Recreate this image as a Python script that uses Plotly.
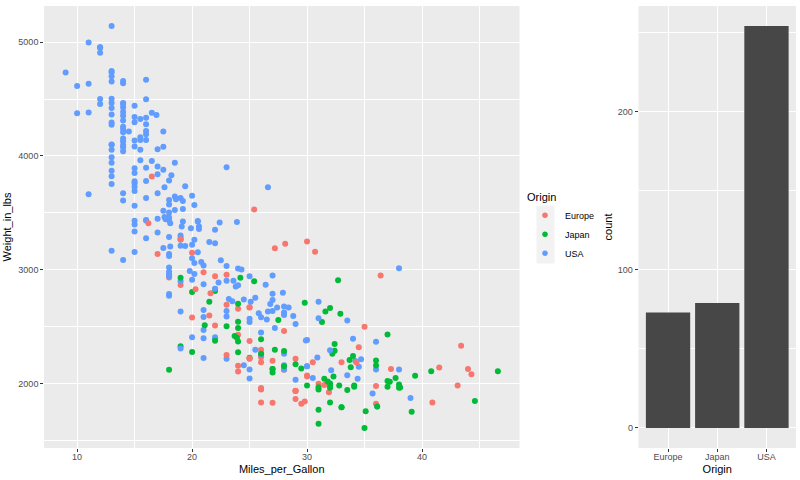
import plotly.graph_objects as go
from collections import Counter

# ---- data: cars dataset (Miles_per_Gallon, Weight_in_lbs, Origin) ----
mpg = [
    # 1970
    18, 15, 18, 16, 17, 15, 14, 14, 14, 15, None, None, None, None, None, 15, 14, None, 15, 14,
    24, 22, 18, 21, 27, 26, 25, 24, 25, 26, 21, 10, 10, 11, 9,
    # 1971
    27, 28, 25, 25, 19, 16, 17, 19, 18, 14, 14, 14, 14, 12, 13, 13, 18, 22, 19, 18,
    23, 28, 30, 30, 31, 35, 27, None, 26,
    # 1972
    24, 25, 23, 20, 21, 13, 14, 15, 14, 17, 11, 13, 12, 13, 19, 15, 13, 13, 14, 18,
    22, 21, 26, 22, 28, 23, 28, 27,
    # 1973
    13, 14, 13, 14, 15, 12, 13, 13, 14, 13, 12, 13, 18, 16, 18, 18, 23, 26, 11, 12,
    13, 12, 18, 20, 21, 22, 18, 19, 21, 26, 15, 16, 29, 24, 20, 19, 15, 24, 20, 11,
    # 1974
    20, 21, 19, 15, 31, 26, 32, 25, 16, 16, 18, 16, 13, 14, 14, 14, 29, 26, 26, 31,
    32, 28, 24, 26, 24, 26, 31,
    # 1975
    19, 18, 15, 15, 16, 15, 16, 14, 17, 16, 15, 18, 21, 20, 13, 29, 23, 20, 23, 24,
    25, 24, 18, 29, 19, 23, 23, 22, 25, 33,
    # 1976
    28, 25, 25, 26, 27, 17.5, 16, 15.5, 14.5, 22, 22, 24, 22.5, 29, 24.5, 29, 33, 20, 18, 18.5,
    17.5, 29.5, 32, 28, 26.5, 20, 13, 19, 19, 16.5, 16.5, 13, 13, 13,
    # 1977
    31.5, 30, 36, 25.5, 33.5, 17.5, 17, 15.5, 15, 17.5, 20.5, 19, 18.5, 16, 15.5, 15.5, 16, 29, 24.5, 26,
    25.5, 30.5, 33.5, 30, 30.5, 22, 21.5, 21.5,
    # 1978
    43.1, 36.1, 32.8, 39.4, 36.1, 19.9, 19.4, 20.2, 19.2, 20.5, 20.2, 25.1, 20.5, 19.4, 20.6, 20.8, 18.6, 18.1, 19.2, 17.7,
    18.1, 17.5, 30, 27.5, 27.2, 30.9, 21.1, 23.2, 23.8, 23.9, 20.3, 17, 21.6, 16.2, 31.5, 29.5,
    # 1979
    21.5, 19.8, 22.3, 20.2, 20.6, 17, 17.6, 16.5, 18.2, 16.9, 15.5, 19.2, 18.5, 31.9, 34.1, 35.7, 27.4, 25.4, 23, 27.2,
    23.9, 34.2, 34.5, 31.8, 37.3, 28.4, 28.8, 26.8, 33.5,
    # 1980
    41.5, 38.1, 32.1, 37.2, 28, 26.4, 24.3, 19.1, 34.3, 29.8, 31.3, 37, 32.2, 46.6, 27.9, 40.8, 44.3, 43.4, 36.4, 30,
    44.6, 40.9, 33.8, 29.8, 32.7, 23.7, 35, 23.6, 32.4,
    # 1981
    27.2, 26.6, 25.8, 23.5, 30, 39.1, 39, 35.1, 32.3, 37, 37.7, 34.1, 34.7, 34.4, 29.9, 33, 34.5, 33.7, 32.4, 32.9,
    31.6, 28.1, None, 30.7, 25.4, 24.2, 22.4, 26.6, 20.2, 17.6,
    # 1982
    28, 27, 34, 31, 29, 27, 24, 23, 36, 37, 31, 38, 36, 36, 36, 34, 38, 32, 38, 25,
    38, 26, 22, 32, 36, 27, 27, 44, 32, 28, 31,
]

weight = [
    3504, 3693, 3436, 3433, 3449, 4341, 4354, 4312, 4425, 3850, 3090, 4142, 4034, 4166, 3850, 3563, 3609, 3353, 3761, 3086,
    2372, 2833, 2774, 2587, 2130, 1835, 2672, 2430, 2375, 2234, 2648, 4615, 4376, 4382, 4732,
    2130, 2264, 2228, 2046, 2634, 3439, 3329, 3302, 3288, 4209, 4464, 4154, 4096, 4955, 4746, 5140, 2962, 2408, 3282, 3139,
    2220, 2123, 2074, 2065, 1773, 1613, 1834, 1978, 1955,
    2278, 2126, 2254, 2408, 2226, 4274, 4385, 4135, 4129, 3672, 4633, 4502, 4456, 4422, 2330, 3892, 4098, 4294, 4077, 2933,
    2511, 2979, 2189, 2395, 2288, 2506, 2164, 2100,
    4100, 3672, 3988, 4042, 3777, 4952, 4464, 4363, 4237, 4735, 4951, 3821, 3121, 3278, 2945, 3021, 2904, 1950, 4997, 4906,
    4654, 4499, 2789, 2279, 2401, 2379, 2124, 2310, 2472, 2265, 4082, 4278, 1867, 2158, 2582, 2868, 3399, 2660, 2807, 3664,
    3102, 2875, 2901, 3336, 1950, 2451, 1836, 2542, 3781, 3632, 3613, 4141, 4699, 4457, 4638, 4257, 2219, 1963, 2300, 1649,
    2003, 2125, 2108, 2246, 2489, 2391, 2000,
    3264, 3459, 3432, 3158, 4668, 4440, 4498, 4657, 3907, 3897, 3730, 3785, 3039, 3221, 3169, 2171, 2639, 2914, 2592, 2702,
    2223, 2545, 2984, 1937, 3211, 2694, 2957, 2945, 2671, 1795,
    2464, 2220, 2572, 2255, 2202, 4215, 4190, 3962, 4215, 3233, 3353, 3012, 3085, 2035, 2164, 1937, 1795, 3651, 3574, 3645,
    3193, 1825, 1990, 2155, 2565, 3150, 3940, 3270, 2930, 3820, 4380, 4055, 3870, 3755,
    2045, 2155, 1825, 2300, 1945, 3880, 4060, 4140, 4295, 3520, 3425, 3630, 3525, 4220, 4165, 4325, 4335, 1940, 2740, 2265,
    2755, 2051, 2075, 1985, 2190, 2815, 2600, 2720,
    1985, 1800, 1985, 2070, 1800, 3365, 3735, 3570, 3535, 3155, 2965, 2720, 3430, 3210, 3380, 3070, 3620, 3410, 3425, 3445,
    3205, 4080, 2155, 2560, 2300, 2230, 2515, 2745, 2855, 2405, 2830, 3140, 2795, 3410, 1990, 2135,
    3245, 2990, 2890, 3265, 3360, 3840, 3725, 3955, 3830, 4360, 4054, 3605, 3940, 1925, 1975, 1915, 2670, 3530, 3900, 3190,
    3420, 2200, 2150, 2020, 2130, 2670, 2595, 2700, 2556,
    2144, 1968, 2120, 2019, 2678, 2870, 3003, 3381, 2188, 2711, 2542, 2434, 2265, 2110, 2800, 2110, 2085, 2335, 2950, 3250,
    1850, 1835, 2145, 1845, 2910, 2420, 2500, 2905, 2290,
    2490, 2635, 2620, 2725, 2385, 1755, 1875, 1760, 2065, 1975, 2050, 1985, 2215, 2045, 2380, 2190, 2320, 2210, 2350, 2615,
    2635, 3230, 2800, 3160, 2900, 2930, 3415, 3725, 3060, 3465,
    2605, 2640, 2395, 2575, 2525, 2735, 2865, 3035, 1980, 2025, 1970, 2125, 2125, 2160, 2205, 2245, 1965, 1965, 1995, 2945,
    3015, 2585, 2835, 2665, 2370, 2950, 2790, 2130, 2295, 2625, 2720,
]

origin_codes = (
    "UUUUUUUUUU" "EUUUU" "UUUUU" "JUUUJEEEEE" "UUUUU"
    "JUJUUUUUUU" "UUUUUUUUUU" "UEEEJJEEU"
    "JUEUUUUUUU" "UUUUJUUUUE" "EEEUJJUJ"
    "UUUUUUUUUU" "UUUUUUUEUU" "UUUJUJJUUE" "UUEEEEUEJU"
    "UUUUJUJUUU" "UUUUUUEEEJ" "JUEEJJE"
    "UUUUUUUUUU" "UUUUUJUUUJ" "EJUEUEEEEJ"
    "EEUUEUUUUU" "UUUUUEJUUU" "UEJJUEUEJE" "UUUU"
    "JUEUJUUUUU" "UUUUUUUEUJ" "UUUJEJEJ"
    "EUJJJUUUUU" "UUUUUUUUUU" "UUUJJUJUUJ" "EEEEEJ"
    "UUUUUUUUUU" "UUUEJUUEUE" "UUUJEUUUU"
    "EJUJUUUUEJ" "JJJJUJEEEE" "JEJEJJEUJ"
    "UUUUUJUJJJ" "JJUUUEEJJJ" "JEEEJJUUUU"
    "UUUUUUUUEJ" "JUUJJJJJJU" "UUUJUUUEUU" "U"
)
origin_names = {"E": "Europe", "J": "Japan", "U": "USA"}
origin = [origin_names[c] for c in origin_codes]

categories = ["Europe", "Japan", "USA"]
colors = {"Europe": "#F8766D", "Japan": "#00BA38", "USA": "#619CFF"}

# ---- scatter subset (rows with MPG) ----
pts = [(m, w, o) for m, w, o in zip(mpg, weight, origin) if m is not None]
sx = [p[0] for p in pts]
sy = [p[1] for p in pts]
sc = [colors[p[2]] for p in pts]

def expand(lo, hi, f=0.05):
    d = (hi - lo) * f
    return [lo - d, hi + d]

xr = expand(min(sx), max(sx))
yr = expand(min(sy), max(sy))
counts = Counter(origin)
cr = expand(0, max(counts.values()))

L, R, T, B = 44, 4, 6, 32
W, H = 800, 480
pw, ph = W - L - R, H - T - B
def px_x(p):
    return (p - L) / pw
def px_y(p):
    return (H - B - p) / ph

font_family = "Liberation Sans, Arial, sans-serif"
tickfont = dict(family=font_family, size=9, color="#4D4D4D")
titlefont = dict(family=font_family, size=11, color="#000000")

fig = go.Figure()
fig.add_trace(go.Scatter(
    x=sx, y=sy, mode="markers", xaxis="x", yaxis="y",
    marker=dict(color=sc, size=6, line=dict(width=0)),
    showlegend=False, hoverinfo="x+y",
))
for cat in categories:
    fig.add_trace(go.Scatter(
        x=[None], y=[None], mode="markers", name=cat, xaxis="x", yaxis="y",
        marker=dict(color=colors[cat], size=5.5, line=dict(width=0)),
        showlegend=True,
    ))
fig.add_trace(go.Histogram(
    x=origin, xaxis="x2", yaxis="y2", histfunc="count",
    marker=dict(color="#474747", line=dict(width=0)),
    showlegend=False,
))

axis_common = dict(
    showline=False, zeroline=False, ticks="outside", ticklen=2.8, tickwidth=1.07,
    tickcolor="#333333", tickfont=tickfont, gridcolor="#FFFFFF", gridwidth=1.2,
)
minor_grid = dict(showgrid=True, gridcolor="#FFFFFF", gridwidth=0.6, ticklen=0)

fig.update_layout(
    width=W, height=H,
    margin=dict(l=L, r=R, t=T, b=B, pad=0),
    paper_bgcolor="#FFFFFF",
    plot_bgcolor="#EBEBEB",
    font=dict(family=font_family),
    bargap=0.1,
    xaxis=dict(domain=[0, px_x(519.5)], range=xr, dtick=10, tick0=0,
               minor=dict(dtick=5, **minor_grid), ticklabelstandoff=-3,
               title=dict(text="Miles_per_Gallon", font=titlefont, standoff=4),
               **axis_common),
    yaxis=dict(domain=[0, 1], range=yr, dtick=1000, tick0=0,
               minor=dict(dtick=500, **minor_grid),
               title=dict(text="Weight_in_lbs", font=titlefont, standoff=4),
               **axis_common),
    xaxis2=dict(domain=[px_x(638.5), 1], anchor="y2", type="category",
                categoryorder="array", categoryarray=categories,
                range=[-0.6, 2.6], ticklabelstandoff=-3,
                title=dict(text="Origin", font=titlefont, standoff=4),
                **axis_common),
    yaxis2=dict(domain=[0, 1], anchor="x2", range=cr, dtick=100, tick0=0,
                minor=dict(dtick=50, **minor_grid),
                title=dict(text="count", font=titlefont, standoff=3),
                **axis_common),
    legend=dict(
        x=px_x(525), xanchor="left", y=px_y(186.5), yanchor="top",
        title=dict(text="Origin", font=dict(family=font_family, size=11, color="#000000")),
        font=dict(family=font_family, size=9, color="#000000"),
        bgcolor="rgba(0,0,0,0)", tracegroupgap=0, itemsizing="trace",
    ),
    shapes=[dict(type="rect", xref="paper", yref="paper",
                 x0=px_x(536.5), x1=px_x(554.5), y0=px_y(263.5), y1=px_y(205.5),
                 fillcolor="#F2F2F2", line=dict(width=0), layer="below")],
)

fig.write_html("out.html")
